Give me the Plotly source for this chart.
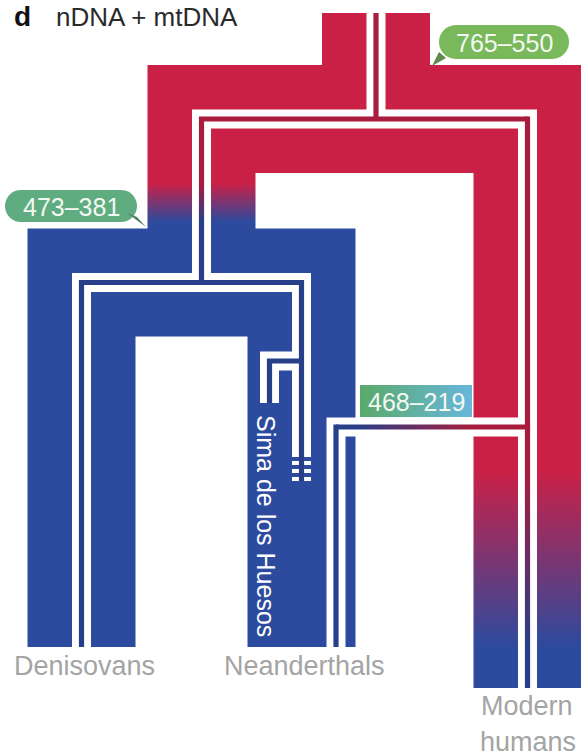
import numpy as np
import plotly.graph_objects as go

W, H = 581, 756

# ---------------- data (schematic diagram units) ----------------
# population tree: wide branches (centre lines)
pop_names = ["ancestral", "archaic", "modern", "denisovan", "neanderthal"]
pop_x = [376.0, 201.5, 527.5, 81.5, 301.5]
pop_y0 = [13.0, 119.0, 119.0, 282.5, 282.5]
pop_y1 = [119.0, 282.5, 688.0, 647.0, 647.0]
pop_zone = ["A", "A", "B", "A", "A"]
split_y = [119.0, 282.5]
split_x0 = [201.5, 81.5]
split_x1 = [527.5, 301.5]

# gene lineages (nDNA + mtDNA) drawn as double lines inside the population tree
gene_names = ["root", "top", "archaic", "dn", "denisovan", "neanderthal",
              "sima", "modern", "introgression_h", "introgression_v"]
gene_x = [[376, 376], [201.5, 527.5], [201.5, 201.5], [81.5, 301.5], [81.5, 81.5],
          [301.5, 301.5], [301.5, 269.5, 269.5], [527.5, 527.5], [527.5, 336], [336, 336]]
gene_y = [[13, 119], [119, 119], [119, 282.5], [282.5, 282.5], [282.5, 647],
          [282.5, 453], [361, 361, 403], [119, 688], [427, 427], [427, 647]]
gene_joined = [False, True, True, True, True, True, True, True, True, True]
gene_zone = ["A", "A", "A", "A", "A", "A", "A", "B", "X", "A"]
neander_dash_y = [453, 461, 469, 477]
neander_end_y = 481

# divergence-time labels (ka)
split_labels = ["765–550", "473–381", "468–219"]
label_cx = [504, 71, 416]
label_cy = [42, 206, 401]

taxa = ["Denisovans", "Neanderthals", "Modern", "humans"]
taxa_x = [84, 304, 527, 528]
taxa_base = [675, 675, 715, 751]

# ---------------- styles ----------------
HW = 54.0      # half width of population branches
RW = 9.5       # half width of white double line
SW = 2.6       # half width of coloured strip between the two white lines
RED, BLUE = "#cb2046", "#2c4b9e"
RED_D, BLUE_D = "#a81c3e", "#263f88"
ZONES = {"A": (183, 222), "B": (470, 648)}
FONT = "Liberation Sans, Arial, sans-serif"


def rect(x0, x1, y0, y1):
    return [x0, x1, x1, x0, x0], [y0, y0, y1, y1, y0]


def poly_trace(polys, fillcolor=None, grad=None):
    xs, ys = [], []
    for px, py in polys:
        xs += list(px) + [None]
        ys += list(py) + [None]
    kw = dict(x=xs, y=ys, mode="none", fill="toself", hoverinfo="skip", showlegend=False)
    if grad is not None:
        kw["fillgradient"] = grad
        kw["fillcolor"] = "rgba(0,0,0,0)"
    else:
        kw["fillcolor"] = fillcolor
    return go.Scatter(**kw)


def vgrad(zone, c0, c1):
    s, e = ZONES[zone]
    return dict(type="vertical", colorscale=[[0, c0], [1, c1]], start=s, stop=e)


def path_rects(xs, ys, joined, w):
    out = []
    n = len(xs)
    for i in range(n - 1):
        p = np.array([xs[i], ys[i]], float)
        q = np.array([xs[i + 1], ys[i + 1]], float)
        d = (q - p) / np.linalg.norm(q - p)
        es = w if (i > 0 or joined) else 0.0
        ee = w if i < n - 2 else 0.0
        a = p - d * es
        b = q + d * ee
        x0, x1 = min(a[0], b[0]), max(a[0], b[0])
        y0, y1 = min(a[1], b[1]), max(a[1], b[1])
        if abs(d[0]) > 0.5:
            out.append(rect(x0, x1, y0 - w, y1 + w))
        else:
            out.append(rect(x0 - w, x1 + w, y0, y1))
    return out


fig = go.Figure()

# ---- population tree (wide branches) ----
for zone in ["A", "B"]:
    polys = []
    for i, z in enumerate(pop_zone):
        if z == zone:
            polys.append(rect(pop_x[i] - HW, pop_x[i] + HW, pop_y0[i], pop_y1[i]))
    if zone == "A":
        for k in range(len(split_y)):
            polys.append(rect(split_x0[k] - HW, split_x1[k] + HW, split_y[k] - HW, split_y[k] + HW))
    fig.add_trace(poly_trace(polys, grad=vgrad(zone, RED, BLUE)))

# ---- white double lines ----
white = []
for gx, gy, j in zip(gene_x, gene_y, gene_joined):
    white += path_rects(gx, gy, j, RW)
nx = pop_x[4]
for yd in neander_dash_y:
    white.append(rect(nx - RW, nx + RW, yd, yd + 4))
fig.add_trace(poly_trace(white, fillcolor="white"))

# ---- coloured strips between the white lines ----
for zone in ["A", "B", "X"]:
    polys = []
    for gx, gy, j, z in zip(gene_x, gene_y, gene_joined, gene_zone):
        if z == zone:
            polys += path_rects(gx, gy, j, SW)
    if zone == "A":
        polys.append(rect(nx - SW, nx + SW, gene_y[5][1] - 1, neander_end_y))
    if zone == "X":
        grad = dict(type="horizontal", colorscale=[[0, BLUE_D], [1, RED_D]], start=356, stop=474)
    else:
        grad = vgrad(zone, RED_D, BLUE_D)
    fig.add_trace(poly_trace(polys, grad=grad))


# ---- date labels ----
def pill(cx, cy, w, h):
    r = h / 2
    t = np.linspace(-np.pi / 2, np.pi / 2, 24)
    xr = (cx + w / 2 - r) + r * np.cos(t)
    yr = cy + r * np.sin(t)
    t2 = np.linspace(np.pi / 2, 3 * np.pi / 2, 24)
    xl = (cx - w / 2 + r) + r * np.cos(t2)
    yl = cy + r * np.sin(t2)
    xs = list(xr) + list(xl) + [xr[0]]
    ys = list(yr) + list(yl) + [yr[0]]
    return xs, ys


fig.add_trace(poly_trace([pill(label_cx[0], label_cy[0], 130, 34)], fillcolor="#79b95b"))
fig.add_trace(poly_trace([([439, 446, 432, 439], [52, 58, 66, 52])], fillcolor="#5f8a4c"))
fig.add_trace(poly_trace([pill(label_cx[1], label_cy[1], 132, 32)], fillcolor="#5fac80"))
fig.add_trace(poly_trace([([127, 137, 146, 127], [213, 217, 227, 213])], fillcolor="#4f7f63"))
fig.add_trace(poly_trace([rect(label_cx[2] - 56, label_cx[2] + 56, label_cy[2] - 16, label_cy[2] + 16)],
                         grad=dict(type="horizontal", colorscale=[[0, "#5aa96a"], [1, "#67b7dd"]],
                                   start=label_cx[2] - 56, stop=label_cx[2] + 56)))

annotations = []
for s, cx, cy in zip(split_labels, label_cx, label_cy):
    annotations.append(dict(x=cx, y=cy + 1, text=s, showarrow=False, xanchor="center", yanchor="middle",
                            font=dict(family=FONT, size=25, color="#f4f8f2")))

FS = 27
for t, x, b in zip(taxa, taxa_x, taxa_base):
    annotations.append(dict(x=x, y=b - 0.3465 * FS, text=t, showarrow=False, xanchor="center",
                            yanchor="middle", font=dict(family=FONT, size=FS, color="#a4a4a4")))

annotations.append(dict(x=266, y=526, text="Sima de los Huesos", textangle=90, showarrow=False,
                        xanchor="center", yanchor="middle",
                        font=dict(family=FONT, size=25, color="white")))

TB = 26  # title baseline
annotations.append(dict(x=12, y=TB - 0.3465 * 28, text="<b>d</b>", showarrow=False, xanchor="left",
                        yanchor="middle", font=dict(family=FONT, size=28, color="#111111")))
annotations.append(dict(x=54, y=TB - 0.3465 * 26, text="nDNA + mtDNA", showarrow=False, xanchor="left",
                        yanchor="middle", font=dict(family=FONT, size=26, color="#2a2a2a")))

for a in annotations:
    a["xref"] = "x"
    a["yref"] = "y"

fig.update_layout(
    width=W, height=H, margin=dict(l=0, r=0, t=0, b=0),
    paper_bgcolor="white", plot_bgcolor="white", showlegend=False, hovermode=False,
    xaxis=dict(range=[0, W], visible=False, fixedrange=True),
    yaxis=dict(range=[H, 0], visible=False, fixedrange=True),
    annotations=annotations,
)

fig.write_html(
    "out.html",
    config={"displayModeBar": False},
    post_script="document.body.style.margin='0';document.body.style.padding='0';"
                "document.body.style.overflow='hidden';",
)
